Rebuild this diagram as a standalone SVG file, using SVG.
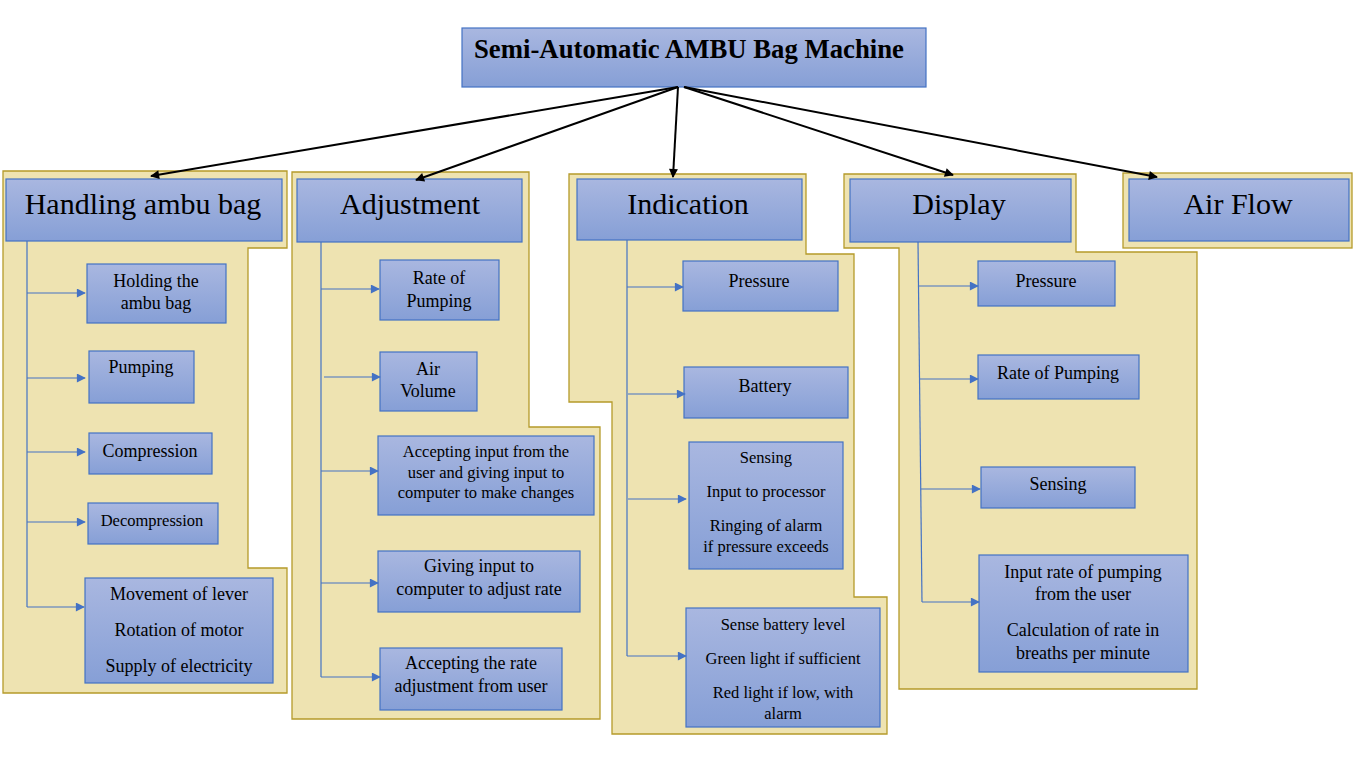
<svg xmlns="http://www.w3.org/2000/svg" width="1356" height="765" viewBox="0 0 1356 765">
<defs>
<linearGradient id="g" x1="0" y1="0" x2="0" y2="1">
<stop offset="0" stop-color="#A9B7E0"/>
<stop offset="1" stop-color="#869FD6"/>
</linearGradient>
<marker id="ab" viewBox="0 0 10 10" refX="9" refY="5" markerWidth="12" markerHeight="9" markerUnits="userSpaceOnUse" orient="auto">
<path d="M0,0 L10,5 L0,10 Z" fill="#000"/>
</marker>
<marker id="ablue" viewBox="0 0 10 10" refX="9" refY="5" markerWidth="10" markerHeight="9" markerUnits="userSpaceOnUse" orient="auto">
<path d="M0,0 L10,5 L0,10 Z" fill="#4472C4"/>
</marker>
</defs>
<style>
.bg{fill:#EEE3B1;stroke:#B59B2A;stroke-width:1.3}
.box{fill:url(#g);stroke:#4472C4;stroke-width:1.2}
.t{font-family:"Liberation Serif","Times New Roman",serif;fill:#000;text-anchor:middle}
.h{font-size:30px}
.s{font-size:18px}
.m{font-size:16.5px}
.ttl{font-size:26.5px;font-weight:bold}
.blk{stroke:#000;stroke-width:2;fill:none}
.bl{stroke:#4472C4;stroke-width:1.2;fill:none}
</style>
<rect width="1356" height="765" fill="#fff"/>

<g id="backgrounds">
<polygon class="bg" points="3,171 287,171 287,248 248,248 248,568 287,568 287,693 3,693"/>
<polygon class="bg" points="292,172 529,172 529,427 600,427 600,719 292,719"/>
<polygon class="bg" points="569,174 806,174 806,254 854,254 854,597 887,597 887,734 612,734 612,402 569,402"/>
<polygon class="bg" points="844,174 1076,174 1076,252 1197,252 1197,689 899,689 899,248 844,248"/>
<rect class="bg" x="1123" y="173" width="229" height="75"/>
</g>

<g id="title">
<rect class="box" x="462" y="28" width="464" height="59"/>
<text class="t ttl" x="689" y="58" textLength="430" lengthAdjust="spacingAndGlyphs">Semi-Automatic AMBU Bag Machine</text>
</g>

<g id="handling">
<rect class="box" x="6" y="179" width="276" height="62"/>
<text class="t h" x="143" y="214">Handling ambu bag</text>
</g>
<g id="holding">
<rect class="box" x="87" y="264" width="139" height="59"/>
<text class="t s" x="156" y="287">Holding the</text>
<text class="t s" x="156" y="309">ambu bag</text>
</g>
<g id="pumping">
<rect class="box" x="89" y="351" width="105" height="52"/>
<text class="t s" x="141" y="373">Pumping</text>
</g>
<g id="compression">
<rect class="box" x="89" y="433" width="123" height="41"/>
<text class="t s" x="150" y="457">Compression</text>
</g>
<g id="decompression">
<rect class="box" x="88" y="503" width="130" height="41"/>
<text class="t m" x="152" y="526">Decompression</text>
</g>
<g id="movement">
<rect class="box" x="85" y="578" width="188" height="105"/>
<text class="t s" x="179" y="600">Movement of lever</text>
<text class="t s" x="179" y="636">Rotation of motor</text>
<text class="t s" x="179" y="672">Supply of electricity</text>
</g>

<g id="adjustment">
<rect class="box" x="297" y="179" width="225" height="63"/>
<text class="t h" x="410" y="214">Adjustment</text>
</g>
<g id="adj-rate">
<rect class="box" x="380" y="260" width="119" height="60"/>
<text class="t s" x="439" y="284">Rate of</text>
<text class="t s" x="439" y="307">Pumping</text>
</g>
<g id="adj-air">
<rect class="box" x="380" y="352" width="97" height="59"/>
<text class="t s" x="428" y="375">Air</text>
<text class="t s" x="428" y="397">Volume</text>
</g>
<g id="adj-accept">
<rect class="box" x="378" y="436" width="216" height="79"/>
<text class="t m" x="486" y="457">Accepting input from the</text>
<text class="t m" x="486" y="478">user and giving input to</text>
<text class="t m" x="486" y="498">computer to make changes</text>
</g>
<g id="adj-giving">
<rect class="box" x="378" y="551" width="202" height="61"/>
<text class="t s" x="479" y="572">Giving input to</text>
<text class="t s" x="479" y="595">computer to adjust rate</text>
</g>
<g id="adj-rateuser">
<rect class="box" x="380" y="648" width="182" height="62"/>
<text class="t s" x="471" y="669">Accepting the rate</text>
<text class="t s" x="471" y="692">adjustment from user</text>
</g>

<g id="indication">
<rect class="box" x="577" y="179" width="225" height="61"/>
<text class="t h" x="688" y="214">Indication</text>
</g>
<g id="ind-pressure">
<rect class="box" x="683" y="261" width="155" height="50"/>
<text class="t s" x="759" y="287">Pressure</text>
</g>
<g id="ind-battery">
<rect class="box" x="684" y="367" width="164" height="51"/>
<text class="t s" x="765" y="392">Battery</text>
</g>
<g id="ind-sensing">
<rect class="box" x="689" y="442" width="154" height="127"/>
<text class="t m" x="766" y="463">Sensing</text>
<text class="t m" x="766" y="497">Input to processor</text>
<text class="t m" x="766" y="531">Ringing of alarm</text>
<text class="t m" x="766" y="552">if pressure exceeds</text>
</g>
<g id="ind-batterylevel">
<rect class="box" x="686" y="608" width="194" height="119"/>
<text class="t m" x="783" y="630">Sense battery level</text>
<text class="t m" x="783" y="664">Green light if sufficient</text>
<text class="t m" x="783" y="698">Red light if low, with</text>
<text class="t m" x="783" y="719">alarm</text>
</g>

<g id="display">
<rect class="box" x="850" y="179" width="221" height="63"/>
<text class="t h" x="959" y="214">Display</text>
</g>
<g id="dis-pressure">
<rect class="box" x="978" y="261" width="137" height="45"/>
<text class="t s" x="1046" y="287">Pressure</text>
</g>
<g id="dis-rate">
<rect class="box" x="978" y="355" width="161" height="44"/>
<text class="t s" x="1058" y="379">Rate of Pumping</text>
</g>
<g id="dis-sensing">
<rect class="box" x="981" y="467" width="154" height="41"/>
<text class="t s" x="1058" y="490">Sensing</text>
</g>
<g id="dis-input">
<rect class="box" x="979" y="555" width="209" height="117"/>
<text class="t s" x="1083" y="578">Input rate of pumping</text>
<text class="t s" x="1083" y="600">from the user</text>
<text class="t s" x="1083" y="636">Calculation of rate in</text>
<text class="t s" x="1083" y="659">breaths per minute</text>
</g>

<g id="airflow">
<rect class="box" x="1129" y="179" width="220" height="62"/>
<text class="t h" x="1238" y="214">Air Flow</text>
</g>

<g id="connectors">
<line class="blk" x1="678" y1="87" x2="151" y2="176" marker-end="url(#ab)"/>
<line class="blk" x1="678" y1="87" x2="416" y2="180" marker-end="url(#ab)"/>
<line class="blk" x1="678" y1="87" x2="673" y2="177" marker-end="url(#ab)"/>
<line class="blk" x1="684" y1="87" x2="953" y2="175" marker-end="url(#ab)"/>
<line class="blk" x1="684" y1="87" x2="1157" y2="177" marker-end="url(#ab)"/>

<line class="bl" x1="27" y1="241" x2="27" y2="607"/>
<line class="bl" x1="27" y1="293" x2="85" y2="293" marker-end="url(#ablue)"/>
<line class="bl" x1="27" y1="378" x2="85" y2="378" marker-end="url(#ablue)"/>
<line class="bl" x1="27" y1="452" x2="85" y2="452" marker-end="url(#ablue)"/>
<line class="bl" x1="27" y1="522" x2="85" y2="522" marker-end="url(#ablue)"/>
<line class="bl" x1="27" y1="607" x2="84" y2="607" marker-end="url(#ablue)"/>

<line class="bl" x1="321" y1="242" x2="321" y2="677"/>
<line class="bl" x1="321" y1="289" x2="379" y2="289" marker-end="url(#ablue)"/>
<line class="bl" x1="324" y1="377" x2="380" y2="377" marker-end="url(#ablue)"/>
<line class="bl" x1="321" y1="471" x2="378" y2="471" marker-end="url(#ablue)"/>
<line class="bl" x1="321" y1="583" x2="378" y2="583" marker-end="url(#ablue)"/>
<line class="bl" x1="321" y1="677" x2="380" y2="677" marker-end="url(#ablue)"/>

<line class="bl" x1="627" y1="240" x2="627" y2="656"/>
<line class="bl" x1="627" y1="287" x2="683" y2="287" marker-end="url(#ablue)"/>
<line class="bl" x1="628" y1="394" x2="685" y2="394" marker-end="url(#ablue)"/>
<line class="bl" x1="628" y1="499" x2="686" y2="499" marker-end="url(#ablue)"/>
<line class="bl" x1="627" y1="656" x2="686" y2="656" marker-end="url(#ablue)"/>

<line class="bl" x1="918" y1="242" x2="922" y2="602"/>
<line class="bl" x1="919" y1="286" x2="978" y2="286" marker-end="url(#ablue)"/>
<line class="bl" x1="920" y1="379" x2="978" y2="379" marker-end="url(#ablue)"/>
<line class="bl" x1="921" y1="489" x2="980" y2="489" marker-end="url(#ablue)"/>
<line class="bl" x1="922" y1="602" x2="979" y2="602" marker-end="url(#ablue)"/>
</g>
</svg>
